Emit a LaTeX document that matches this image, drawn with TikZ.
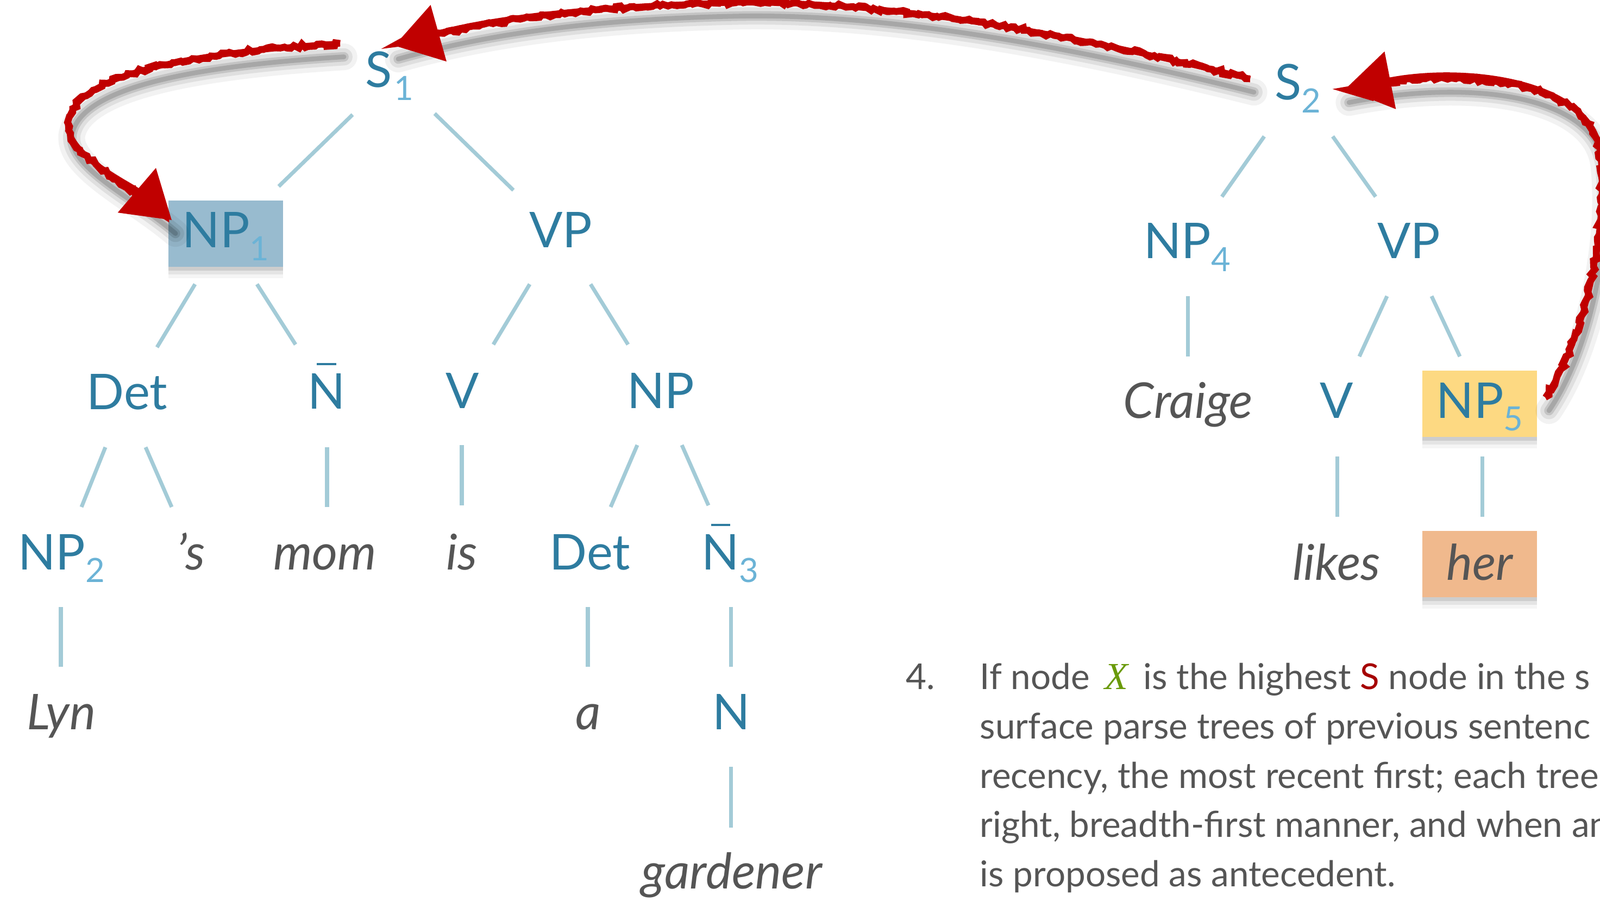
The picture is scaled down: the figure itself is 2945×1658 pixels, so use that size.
\documentclass[tikz,border=0pt]{standalone}
\usepackage{fontspec}
\setmainfont{Lato}
\newfontfamily\xserif{Liberation Serif}
\usetikzlibrary{calc,arrows.meta,decorations.pathmorphing}
\definecolor{catblue}{HTML}{2E7CA0}
\definecolor{subblue}{HTML}{6BB3D6}
\definecolor{edgeblue}{HTML}{A3CBD7}
\definecolor{wordgray}{HTML}{555555}
\definecolor{npfill}{HTML}{98BBCF}
\definecolor{yelfill}{HTML}{FDD982}
\definecolor{herfill}{HTML}{F0B98D}
\definecolor{arrowred}{HTML}{C00000}
\definecolor{xgreen}{HTML}{6A9A0A}
\definecolor{sred}{HTML}{A50000}
\newcommand\catsize{\fontsize{25.8pt}{30pt}\selectfont}
\newcommand\subx[1]{\raisebox{-2.3mm}{\fontsize{17.5pt}{20pt}\selectfont\textcolor{subblue}{#1}}}
\newcommand\Nbar{\ooalign{N\cr\hidewidth\rule[8.0mm]{3.5mm}{0.35mm}\hidewidth\cr}}
\newcommand\redcurve[1]{%
  \draw[redshadow, line width=14pt, opacity=0.05] #1;
  \draw[redshadow, line width=9pt, opacity=0.08] #1;
  \draw[redshadow, line width=5pt, opacity=0.12] #1;
  \draw[redshadow, line width=2.5pt, opacity=0.15] #1;
  \draw[redrough] #1;
  \draw[redmain] #1;}
\tikzset{
  cat/.style={anchor=base, inner sep=0pt, text=catblue, font=\catsize},
  word/.style={anchor=base, inner sep=0pt, text=wordgray, font=\catsize\itshape},
  boxnode/.style={anchor=base, inner sep=0pt, text height=8.7mm, text depth=3.5mm,
    minimum width=21.1mm,
    preaction={fill=black, opacity=0.10, transform canvas={yshift=-2pt}},
    preaction={fill=black, opacity=0.07, transform canvas={yshift=-4pt}},
    preaction={fill=black, opacity=0.04, transform canvas={yshift=-6pt}}},
  edge/.style={draw=edgeblue, line width=2pt},
  para/.style={anchor=base west, inner sep=0pt, text=wordgray, font=\fontsize{18.66pt}{22pt}\selectfont},
  redshadow/.style={draw=black, line cap=round, transform canvas={xshift=2pt, yshift=-7pt}},
  redrough/.style={draw=arrowred, line width=3.6pt, shorten >=16pt, decorate,
    decoration={random steps, segment length=2pt, amplitude=1.1pt}},
  redmain/.style={draw=arrowred, line width=3pt, -{Triangle[length=24pt,width=30pt]}},
}
\begin{document}
\begin{tikzpicture}[x=0.01cm, y=-0.01cm]
\useasboundingbox (0,0) rectangle (2945,1658);
\clip (0,0) rectangle (2945,1658);
% ---------- tree 1 ----------
\node[cat] (S1) at (717,161) {S\kern1pt\subx{1}};
\node[cat, boxnode, fill=npfill] (NP1) at (415.5,456) {NP\subx{1}};
\node[cat] (VP1) at (1032,456) {VP};
\node[cat] (Det1) at (234,753) {Det};
\node[cat] (Nb1) at (601,752) {\Nbar};
\node[cat] (V1) at (851,751) {V};
\node[cat] (NPb) at (1216,751) {NP};
\node[cat] (NP2) at (113,1048) {NP\subx{2}};
\node[word] (poss) at (352,1048) {’s};
\node[word] (mom) at (598,1048) {mom};
\node[word] (is) at (850,1048) {is};
\node[cat] (Det2) at (1086,1048) {Det};
\node[cat] (Nb3) at (1344,1048) {\Nbar\subx{3}};
\node[word] (Lyn) at (113,1342) {Lyn};
\node[word] (wa) at (1083,1342) {a};
\node[cat] (N) at (1346,1342) {N};
\node[word] (gardener) at (1347,1635) {gardener};
% ---------- tree 2 ----------
\node[cat] (S2) at (2389,184) {S\subx{2}};
\node[cat] (NP4) at (2185,476) {NP\subx{4}};
\node[cat] (VP2) at (2593,476) {VP};
\node[word] (Craige) at (2187,769) {Craige};
\node[cat] (V2) at (2460,769) {V};
\node[cat, boxnode, fill=yelfill] (NP5) at (2723.5,769) {NP\subx{5}};
\node[word] (likes) at (2460,1067) {likes};
\node[word, boxnode, fill=herfill, text height=9.0mm, text depth=3.2mm] (her) at (2723.5,1067) {her};
% ---------- edges ----------
\draw[edge] ($(S1.base)+(649-717,211-161)$) -- ($(NP1.base)+(513-415.5,343-456)$);
\draw[edge] ($(S1.base)+(800-717,209-161)$) -- ($(VP1.base)+(945-1032,350-456)$);
\draw[edge] ($(NP1.base)+(359-415.5,523-456)$) -- ($(Det1.base)+(289-234,639-753)$);
\draw[edge] ($(NP1.base)+(473-415.5,523-456)$) -- ($(Nb1.base)+(544-601,634-752)$);
\draw[edge] ($(VP1.base)+(975-1032,523-456)$) -- ($(V1.base)+(908-851,634-751)$);
\draw[edge] ($(VP1.base)+(1087-1032,523-456)$) -- ($(NPb.base)+(1156-1216,634-751)$);
\draw[edge] ($(Det1.base)+(194-234,823-753)$) -- ($(NP2.base)+(150-113,933-1048)$);
\draw[edge] ($(Det1.base)+(268-234,823-753)$) -- ($(poss.base)+(316-352,933-1048)$);
\draw[edge] ($(Nb1.base)+(602-601,823-752)$) -- ($(mom.base)+(602-598,933-1048)$);
\draw[edge] ($(V1.base)+(850-851,819-751)$) -- ($(is.base)+(850-850,930-1048)$);
\draw[edge] ($(NPb.base)+(1173-1216,819-751)$) -- ($(Det2.base)+(1124-1086,933-1048)$);
\draw[edge] ($(NPb.base)+(1255-1216,819-751)$) -- ($(Nb3.base)+(1304-1344,930-1048)$);
\draw[edge] ($(NP2.base)+(112-113,1117-1048)$) -- ($(Lyn.base)+(112-113,1227-1342)$);
\draw[edge] ($(Det2.base)+(1082-1086,1117-1048)$) -- ($(wa.base)+(1082-1083,1227-1342)$);
\draw[edge] ($(Nb3.base)+(1345-1344,1117-1048)$) -- ($(N.base)+(1345-1346,1227-1342)$);
\draw[edge] ($(N.base)+(1345-1346,1411-1342)$) -- ($(gardener.base)+(1345-1347,1523-1635)$);
\draw[edge] ($(S2.base)+(2327-2389,251-184)$) -- ($(NP4.base)+(2249-2185,362-476)$);
\draw[edge] ($(S2.base)+(2453-2389,251-184)$) -- ($(VP2.base)+(2532-2593,362-476)$);
\draw[edge] ($(NP4.base)+(2186-2185,545-476)$) -- ($(Craige.base)+(2186-2187,656-769)$);
\draw[edge] ($(VP2.base)+(2553-2593,545-476)$) -- ($(V2.base)+(2502-2460,656-769)$);
\draw[edge] ($(VP2.base)+(2635-2593,545-476)$) -- ($(NP5.base)+(2687-2723.5,656-769)$);
\draw[edge] ($(V2.base)+(2461-2460,840-769)$) -- ($(likes.base)+(2461-2460,951-1067)$);
\draw[edge] ($(NP5.base)+(2728-2723.5,840-769)$) -- ($(her.base)+(2728-2723.5,951-1067)$);
% ---------- red arrows ----------
\redcurve{($(S1.base)+(626-717,80-161)$) .. controls (380,95) and (140,130) .. (125,225) .. controls (120,285) and (240,340) .. ($(NP1.base)+(316-415.5,405-456)$)}
\redcurve{($(S2.base)+(2301-2389,145-184)$) .. controls (2000,70) and (1650,0) .. (1355,5) .. controls (1100,10) and (900,35) .. ($(S1.base)+(726-717,84-161)$)}
\redcurve{($(NP5.base)+(2844-2723.5,731-769)$) .. controls (2920,620) and (2960,420) .. (2945,280) .. controls (2930,150) and (2700,120) .. ($(S2.base)+(2476-2389,164-184)$)}
% ---------- text ----------
\node[para] (num) at (1667,1268) {4.};
\node[para] (t1) at (1803,1268) {If node \,{\xserif\itshape\fontsize{20pt}{22pt}\selectfont\textcolor{xgreen}{X}}\, is the highest \textcolor{sred}{S} node in the s};
\node[para] (t2) at (1803,1359) {surface parse trees of previous sentenc};
\node[para] (t3) at (1803,1450) {recency, the most recent first; each tree};
\node[para] (t4) at (1803,1540) {right, breadth-first manner, and when an};
\node[para] (t5) at (1803,1631) {is proposed as antecedent.};
\end{tikzpicture}
\end{document}
